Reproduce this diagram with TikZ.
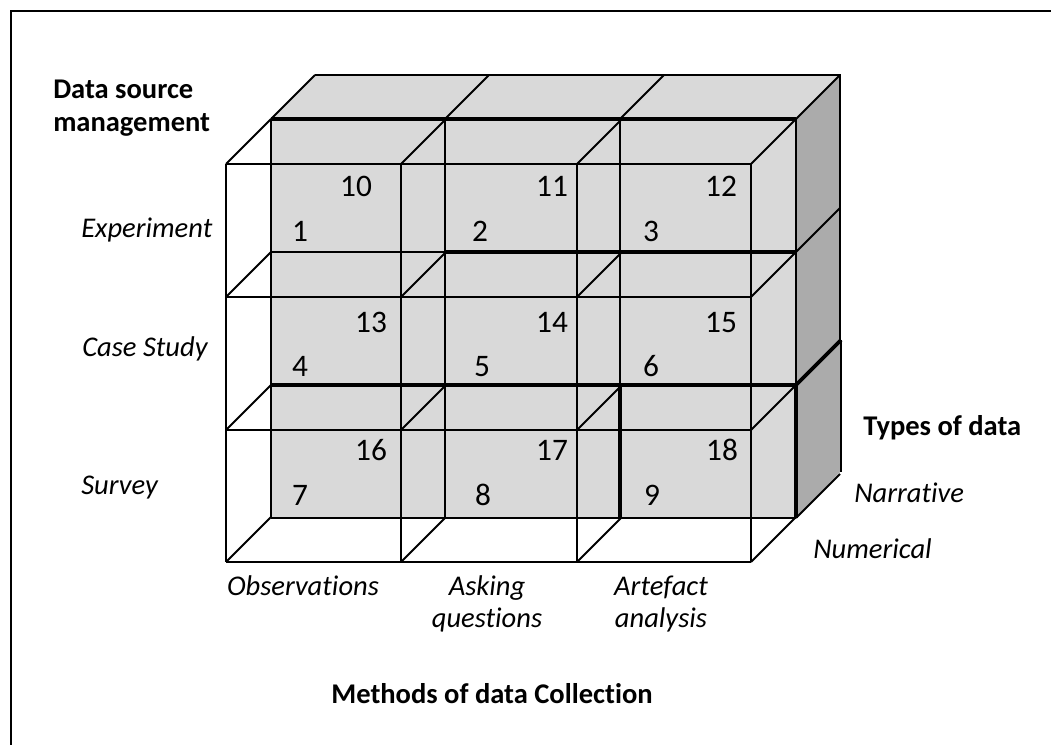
\documentclass[tikz,border=0pt]{standalone}
\usepackage{fontspec}
\setmainfont{Carlito}[Ligatures=NoCommon]
\definecolor{facelight}{HTML}{D9D9D9}
\definecolor{facedark}{HTML}{ABABAB}
\begin{document}
\begin{tikzpicture}[x=0.75pt,y=-0.75pt,
  edge/.style={line width=1.5pt},
  heavy/.style={line width=2.9pt},
  lbl/.style={font=\fontsize{21.4}{25}\selectfont\itshape, inner sep=0pt},
  head/.style={font=\fontsize{21.4}{25}\selectfont\bfseries, inner sep=0pt},
  num/.style={font=\fontsize{23.5}{28}\selectfont, inner sep=0pt, anchor=base}]
\useasboundingbox (0,0) rectangle (1051,745);
\clip (0,0) rectangle (1051,745);

% frame around the figure
\draw[line width=1.6pt] (11,11) rectangle (1070,770);

% ---- rear layer (Narrative): solid grey blocks ----
\fill[facelight] (271,119) rectangle (796,518);
\fill[facelight] (271,119) -- (315,75) -- (840,75) -- (796,119) -- cycle;
\fill[facedark] (796,119) -- (840,75) -- (840,472) -- (796,518) -- cycle;

\foreach \x in {271,445,620,796} {
  \draw[edge] (\x,119) -- (\x,518);
  \draw[edge] (\x,119) -- ++(44,-44);
}
\foreach \y in {119,252,385,518} {
  \draw[edge] (271,\y) -- (796,\y);
}
\foreach \y in {252,385,518} {
  \draw[edge] (796,\y) -- ++(44,-44);
}
\draw[edge] (315,75) -- (840,75) -- (840,340);
\draw[edge] (841,340) -- (841,472);

% heavier edges of the rear blocks
\draw[heavy] (271,119) -- (796,119);
\draw[heavy] (445,252) -- (796,252);
\draw[heavy] (271,385) -- (796,385);
\draw[heavy] (620,385) -- (620,518);
\draw[heavy] (796,385) -- (796,518);
\draw[heavy] (796,385) -- (841,340);

% ---- front layer (Numerical): wire-frame blocks ----
\foreach \x in {226,401,577,751} {
  \draw[edge] (\x,164) -- (\x,562);
  \foreach \y in {164,297,430,562} {
    \draw[edge] (\x,\y) -- ++(45,-45);
  }
}
\foreach \y in {164,297,430,562} {
  \draw[edge] (226,\y) -- (751,\y);
}

% ---- cell numbers ----
\node[num] (n10) at (356,197) {10};
\node[num] (n11) at (552,197) {11};
\node[num] (n12) at (721,197) {12};
\node[num] (n1)  at (300,242) {1};
\node[num] (n2)  at (480,242) {2};
\node[num] (n3)  at (651,242) {3};
\node[num] (n13) at (371,333) {13};
\node[num] (n14) at (552,333) {14};
\node[num] (n15) at (721,333) {15};
\node[num] (n4)  at (300,377) {4};
\node[num] (n5)  at (482,377) {5};
\node[num] (n6)  at (651,377) {6};
\node[num] (n16) at (371,461) {16};
\node[num] (n17) at (552,461) {17};
\node[num] (n18) at (722,461) {18};
\node[num] (n7)  at (300,506) {7};
\node[num] (n8)  at (483,506) {8};
\node[num] (n9)  at (652,506) {9};

% ---- axis labels ----
\node[head, anchor=base west] (dsm1) at (53,99) {Data source};
\node[head, anchor=base west] (dsm2) at (53,132) {management};
\node[lbl, anchor=base west] (exper) at (81,238) {Experiment};
\node[lbl, anchor=base west] (cases) at (82,357) {Case Study};
\node[lbl, anchor=base west] (surv) at (81,495) {Survey};
\node[lbl, anchor=base] (obs) at (303,595) {Observations};
\node[lbl, anchor=base] (ask1) at (487,595) {Asking};
\node[lbl, anchor=base] (ask2) at (487,628) {questions};
\node[lbl, anchor=base] (art1) at (661,595) {Artefact};
\node[lbl, anchor=base] (art2) at (661,628) {analysis};
\node[head, anchor=base] (meth) at (492,703) {Methods of data Collection};
\node[head, anchor=base west] (types) at (863,436) {Types of data};
\node[lbl, anchor=base west] (narr) at (854,503) {Narrative};
\node[lbl, anchor=base west] (numr) at (813,559) {Numerical};
\end{tikzpicture}
\end{document}
